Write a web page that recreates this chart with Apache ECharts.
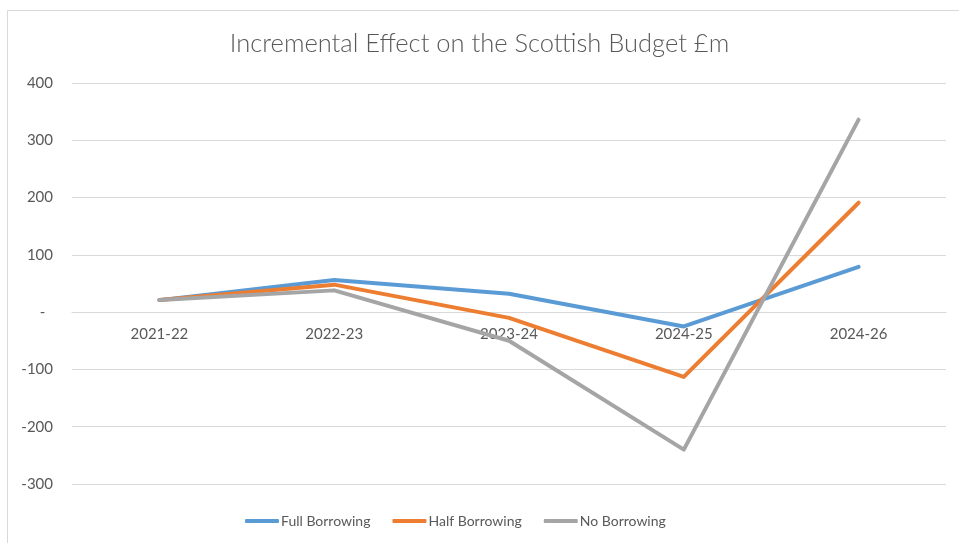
<!DOCTYPE html>
<html>
<head>
<meta charset="utf-8">
<script src="https://cdn.jsdelivr.net/npm/echarts@6/dist/echarts.min.js"></script>
<style>
  html, body { margin: 0; padding: 0; background: #fff; }
  #chart { width: 959px; height: 543px; }
</style>
</head>
<body>
<div id="chart"></div>
<script>
// Fiscal years on the horizontal axis
const years = ['2021-22', '2022-23', '2023-24', '2024-25', '2024-26'];

// Incremental effect (£m) under each borrowing scenario
const fullBorrowing = [21, 56, 32, -25, 79];
const halfBorrowing = [21, 48, -10, -113, 191];
const noBorrowing   = [21, 38, -50, -240, 336];

const seriesNames = ['Full Borrowing', 'Half Borrowing', 'No Borrowing'];
const seriesColors = ['#5B9BD5', '#ED7D31', '#A5A5A5'];
const seriesData = [fullBorrowing, halfBorrowing, noBorrowing];

const textColor = '#595959';
const fontFamily = 'Lato, "Open Sans", sans-serif';

// Plot area geometry; the category axis sits on the zero line
const gridTop = 83, gridBottom = 59;
const yMin = -300, yMax = 400;
const plotHeight = 543 - gridTop - gridBottom;
const zeroOffset = -plotHeight * (0 - yMin) / (yMax - yMin);

const chart = echarts.init(document.getElementById('chart'), null, { renderer: 'canvas' });

chart.setOption({
  animation: false,
  backgroundColor: '#ffffff',
  title: {
    text: 'Incremental Effect on the Scottish Budget £m',
    left: 'center',
    top: 26,
    textStyle: { color: textColor, fontSize: 25.5, fontWeight: 300, fontFamily: fontFamily }
  },
  graphic: [{
    type: 'rect',
    shape: { x: 7.5, y: 10.5, width: 960, height: 560 },
    style: { fill: 'none', stroke: '#D9D9D9', lineWidth: 1 },
    silent: true
  }],
  legend: {
    data: seriesNames,
    bottom: 10,
    left: 240,
    itemGap: 22,
    itemWidth: 34,
    itemHeight: 4,
    icon: 'roundRect',
    textStyle: { color: textColor, fontSize: 14, fontFamily: fontFamily, padding: [0, 0, 0, -3] }
  },
  grid: { left: 72, right: 13, top: gridTop, bottom: gridBottom, containLabel: false },
  xAxis: {
    type: 'category',
    data: years,
    boundaryGap: true,
    offset: zeroOffset,
    axisLine: { onZero: false, lineStyle: { color: '#D9D9D9', width: 1 } },
    axisTick: { show: false },
    axisLabel: { color: textColor, fontSize: 15, fontFamily: fontFamily, margin: 15 }
  },
  yAxis: {
    type: 'value',
    min: yMin,
    max: yMax,
    interval: 100,
    axisLine: { show: false },
    axisTick: { show: false },
    splitLine: { lineStyle: { color: '#D9D9D9', width: 1 } },
    axisLabel: {
      color: textColor,
      fontSize: 15,
      fontFamily: fontFamily,
      margin: 19,
      formatter: v => (v === 0 ? '-  ' : String(v))
    }
  },
  series: seriesData.map((d, i) => ({
    name: seriesNames[i],
    type: 'line',
    data: d,
    symbol: 'none',
    lineStyle: { width: 4, color: seriesColors[i], cap: 'round', join: 'round' },
    itemStyle: { color: seriesColors[i] },
    z: 2 + i
  }))
});
</script>
</body>
</html>
